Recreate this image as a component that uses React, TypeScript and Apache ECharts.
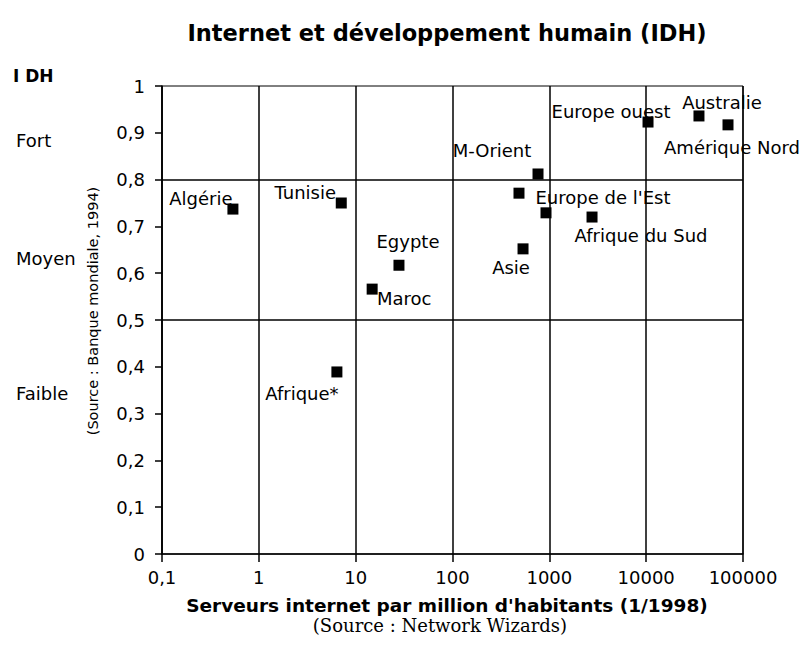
import React, { useEffect, useRef } from "react";
import * as echarts from "echarts";

const regions = [
  "Algérie",
  "Tunisie",
  "Egypte",
  "Maroc",
  "Afrique*",
  "M-Orient",
  "Europe de l'Est",
  "",
  "Asie",
  "Afrique du Sud",
  "Europe ouest",
  "Australie",
  "Amérique Nord",
];
const serversPerMillion = [0.54, 7.1, 28, 14.8, 6.4, 764, 486, 924, 535, 2760, 10450, 35100, 70000];
const idhValues = [0.737, 0.75, 0.617, 0.566, 0.389, 0.812, 0.771, 0.729, 0.652, 0.72, 0.923, 0.936, 0.917];
const xTickValues = [0.1, 1, 10, 100, 1000, 10000, 100000];
const idhLevels = ["Fort", "Moyen", "Faible"];
const idhThresholds = [0.5, 0.8];

// label offsets (layout only)
const labelOffsets: [number, number][] = [
  [-32, -11],
  [-36, -11],
  [9, -24],
  [32, 9],
  [-35, 22],
  [-46, -23],
  [84, 4],
  [0, 0],
  [-12, 19],
  [49, 18],
  [-37, -11],
  [23, -13],
  [4, 23],
];

const FONT = "DejaVu Sans";

export default function App() {
  const ref = useRef<HTMLDivElement>(null);
  useEffect(() => {
    document.body.style.margin = "0";
    if (!ref.current) return;
    const chart = echarts.init(ref.current, undefined, { renderer: "svg" });
    const fmtNum = (v: number) => String(Number(v.toPrecision(6))).replace(".", ",");
    const data = regions.map((name, i) => ({
      name,
      value: [serversPerMillion[i], idhValues[i]],
      label: {
        show: name !== "",
        formatter: name,
        position: "inside" as const,
        offset: labelOffsets[i],
        align: "center",
        verticalAlign: "middle",
        color: "#000",
        fontFamily: FONT,
        fontSize: 18,
      },
    }));
    const levelY = [140, 258, 393];
    chart.setOption({
      animation: false,
      backgroundColor: "#fff",
      grid: {
        left: 162,
        top: 86,
        width: 581,
        height: 468,
        show: true,
        borderColor: "#000",
        borderWidth: 1,
        containLabel: false,
      },
      xAxis: {
        type: "log",
        logBase: 10,
        min: 0.1,
        max: 100000,
        axisLine: { show: true, lineStyle: { color: "#000", width: 1.5 } },
        axisTick: { show: true, inside: false, length: 8, lineStyle: { color: "#000", width: 1.5 } },
        minorTick: { show: false },
        splitLine: { show: true, lineStyle: { color: "#000", width: 1.5 } },
        axisLabel: {
          margin: 14,
          color: "#000",
          fontFamily: FONT,
          fontSize: 18,
          formatter: (v: number) => {
            const m = xTickValues.find((t) => Math.abs(Math.log10(t) - Math.log10(v)) < 1e-6);
            return m !== undefined ? fmtNum(m) : "";
          },
        },
      },
      yAxis: {
        type: "value",
        min: 0,
        max: 1,
        interval: 0.1,
        axisLine: { show: true, lineStyle: { color: "#000", width: 1.5 } },
        axisTick: { show: true, inside: false, length: 7, lineStyle: { color: "#000", width: 1.5 } },
        splitLine: { show: false },
        axisLabel: {
          margin: 17,
          color: "#000",
          fontFamily: FONT,
          fontSize: 18,
          formatter: (v: number) => fmtNum(Math.round(v * 10) / 10),
        },
      },
      series: [
        {
          type: "scatter",
          symbol: "rect",
          symbolSize: 11,
          itemStyle: { color: "#000", opacity: 1 },
          data,
          markLine: {
            silent: true,
            symbol: "none",
            label: { show: false },
            lineStyle: { color: "#000", width: 1.5, type: "solid" },
            data: idhThresholds.map((t) => ({ yAxis: t })),
          },
        },
      ],
      graphic: [
        {
          type: "text",
          style: {
            text: "Internet et développement humain (IDH)",
            x: 447,
            y: 33,
            align: "center",
            verticalAlign: "middle",
            font: `bold 22.5px "${FONT}"`,
            fill: "#000",
          },
        },
        {
          type: "text",
          style: {
            text: "I DH",
            x: 13,
            y: 76,
            align: "left",
            verticalAlign: "middle",
            font: `bold 17px "${FONT}"`,
            fill: "#000",
          },
        },
        ...idhLevels.map((t, i) => ({
          type: "text",
          style: {
            text: t,
            x: 16,
            y: levelY[i],
            align: "left",
            verticalAlign: "middle",
            font: `18px "${FONT}"`,
            fill: "#000",
          },
        })),
        {
          type: "text",
          x: 93,
          y: 311,
          rotation: Math.PI / 2,
          style: {
            text: "(Source : Banque mondiale, 1994)",
            x: 0,
            y: 0,
            align: "center",
            verticalAlign: "middle",
            font: `14.5px "${FONT}"`,
            fill: "#000",
          },
        },
        {
          type: "text",
          style: {
            text: "Serveurs internet par million d'habitants (1/1998)",
            x: 447,
            y: 605,
            align: "center",
            verticalAlign: "middle",
            font: `bold 18.5px "${FONT}"`,
            fill: "#000",
          },
        },
        {
          type: "text",
          style: {
            text: "(Source : Network Wizards)",
            x: 440,
            y: 625,
            align: "center",
            verticalAlign: "middle",
            font: `18px "DejaVu Serif"`,
            fill: "#000",
          },
        },
      ],
    });
    return () => chart.dispose();
  }, []);
  return <div ref={ref} style={{ width: 806, height: 660 }} />;
}
